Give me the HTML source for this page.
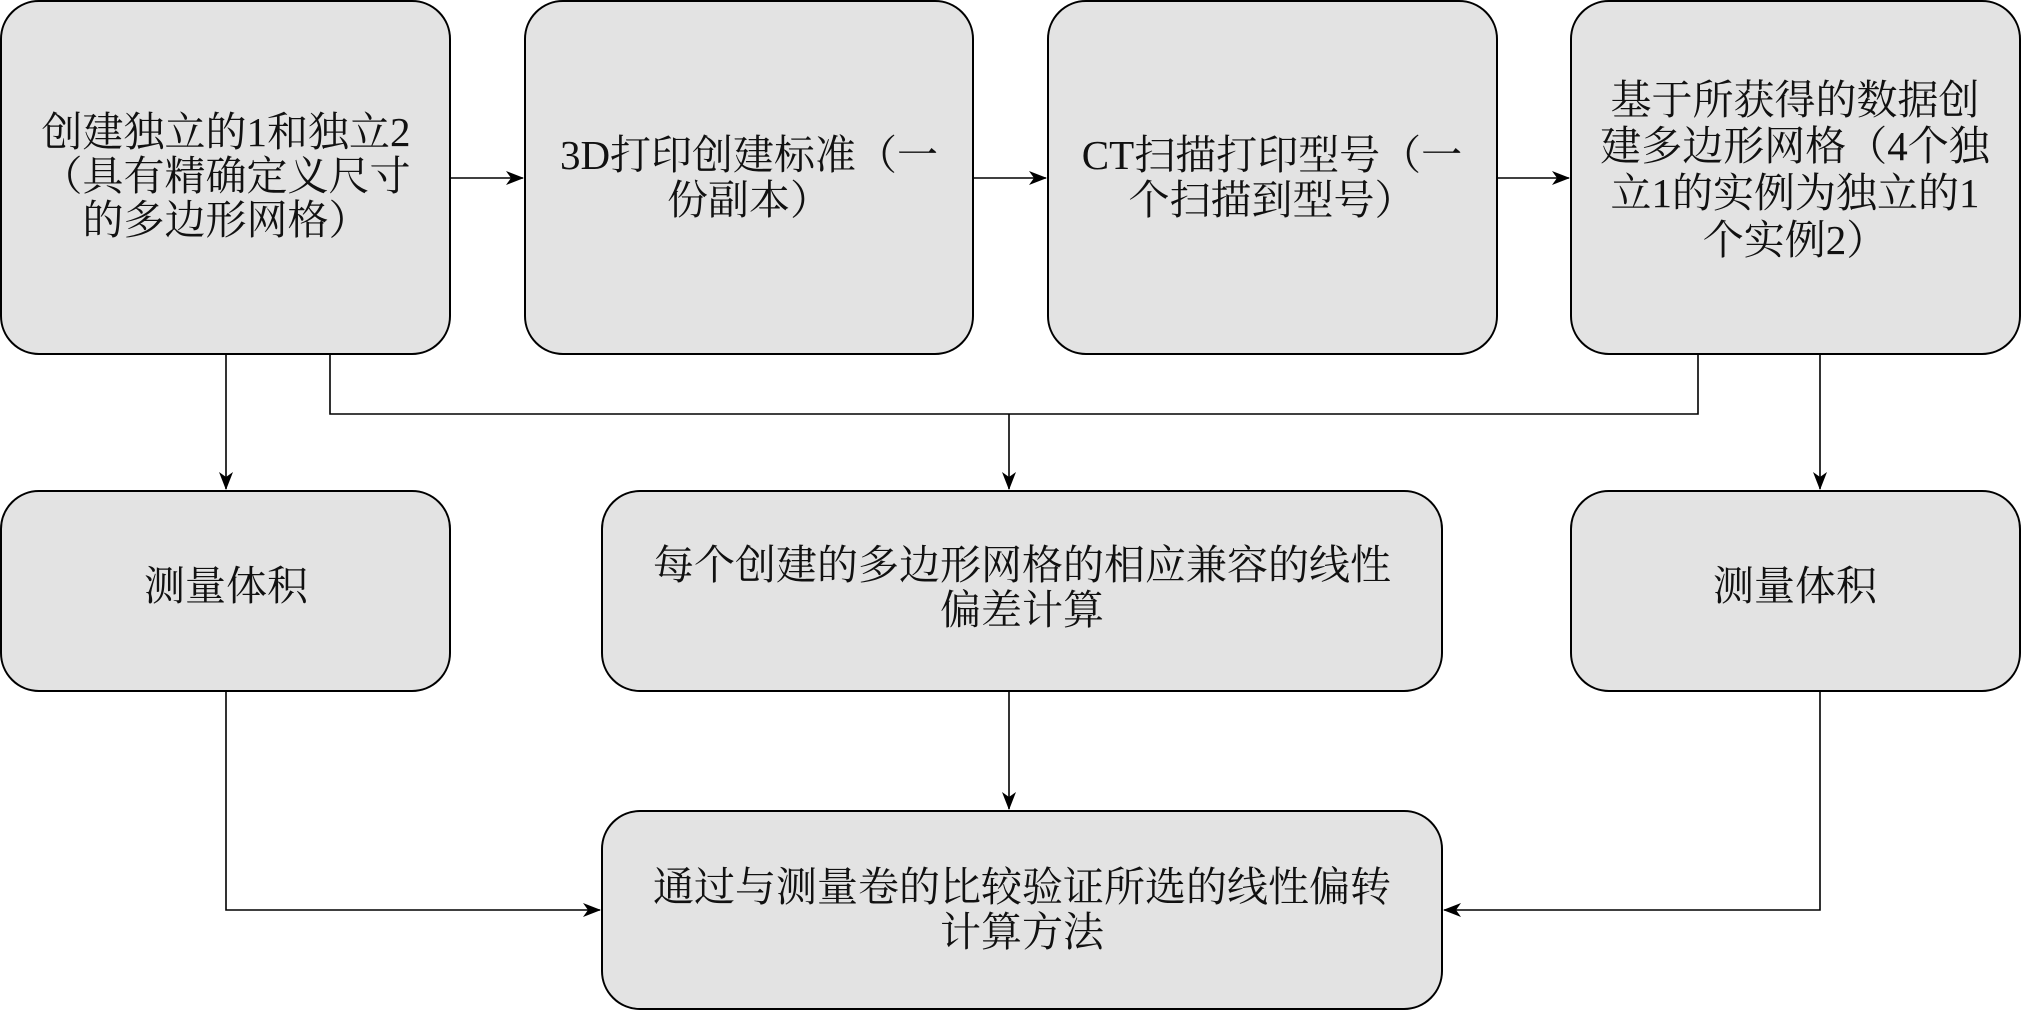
<!DOCTYPE html>
<html><head><meta charset="utf-8"><style>
html,body{margin:0;padding:0;background:#fff;}
svg{display:block;}
text{font-family:"Liberation Serif","Noto Serif CJK SC",serif;font-size:41px;fill:#111;text-anchor:middle;}
</style></head><body>
<svg width="2021" height="1011" viewBox="0 0 2021 1011" xmlns="http://www.w3.org/2000/svg">
<defs>
<marker id="a" markerWidth="18" markerHeight="14" refX="17" refY="7" orient="auto" markerUnits="userSpaceOnUse">
<path d="M0,0 L18,7 L0,14 L5,7 Z" fill="#000"/>
</marker>
</defs>
<g fill="#e3e3e3" stroke="#000" stroke-width="2">
<rect x="1" y="1" width="449" height="353" rx="38"/>
<rect x="525" y="1" width="448" height="353" rx="38"/>
<rect x="1048" y="1" width="449" height="353" rx="38"/>
<rect x="1571" y="1" width="449" height="353" rx="38"/>
<rect x="1" y="491" width="449" height="200" rx="38"/>
<rect x="602" y="491" width="840" height="200" rx="38"/>
<rect x="1571" y="491" width="449" height="200" rx="38"/>
<rect x="602" y="811" width="840" height="198" rx="38"/>
</g>
<g stroke="#000" stroke-width="1.6" fill="none">
<line x1="450" y1="178" x2="523" y2="178" marker-end="url(#a)"/>
<line x1="973" y1="178" x2="1046" y2="178" marker-end="url(#a)"/>
<line x1="1497" y1="178" x2="1569" y2="178" marker-end="url(#a)"/>
<line x1="226" y1="354" x2="226" y2="489" marker-end="url(#a)"/>
<polyline points="330,354 330,414 1698,414 1698,354"/>
<line x1="1009" y1="414" x2="1009" y2="489" marker-end="url(#a)"/>
<line x1="1820" y1="354" x2="1820" y2="489" marker-end="url(#a)"/>
<line x1="1009" y1="691" x2="1009" y2="809" marker-end="url(#a)"/>
<polyline points="226,691 226,910 600,910" marker-end="url(#a)"/>
<polyline points="1820,691 1820,910 1444,910" marker-end="url(#a)"/>
</g>
<text x="226" y="146">创建独立的1和独立2</text>
<text x="226" y="190">（具有精确定义尺寸</text>
<text x="226" y="234">的多边形网格）</text>
<text x="749" y="169">3D打印创建标准（一</text>
<text x="749" y="214">份副本）</text>
<text x="1272" y="169">CT扫描打印型号（一</text>
<text x="1272" y="214">个扫描到型号）</text>
<text x="1795" y="114">基于所获得的数据创</text>
<text x="1795" y="160">建多边形网格（4个独</text>
<text x="1795" y="207">立1的实例为独立的1</text>
<text x="1795" y="254">个实例2）</text>
<text x="226" y="600">测量体积</text>
<text x="1022" y="579">每个创建的多边形网格的相应兼容的线性</text>
<text x="1022" y="624">偏差计算</text>
<text x="1795" y="600">测量体积</text>
<text x="1022" y="901">通过与测量卷的比较验证所选的线性偏转</text>
<text x="1022" y="946">计算方法</text>
</svg>
</body></html>
